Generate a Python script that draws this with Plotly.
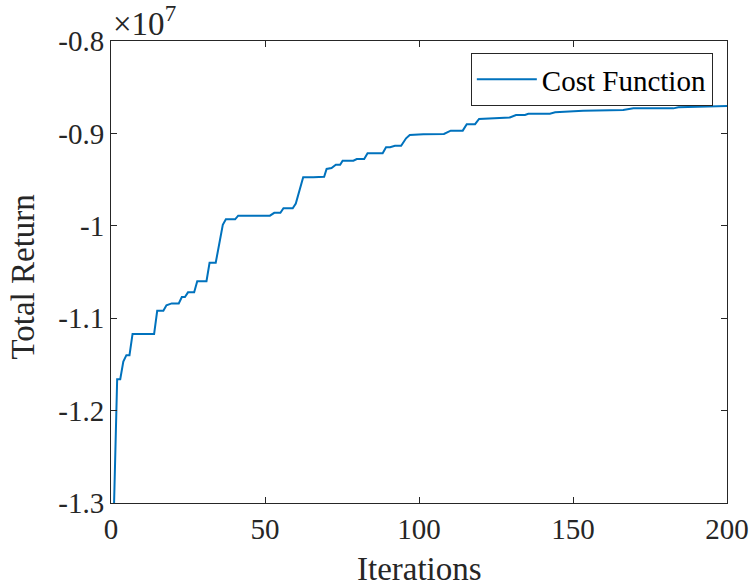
import plotly.graph_objects as go

# Data (values in units of 1e7)
iterations = [1, 2, 3, 4, 5, 6, 7, 14, 15, 17, 18, 19.7, 22, 23, 24, 25, 27, 28, 31, 32, 34,
              35.4, 36.3, 37.3, 40.3, 41.3, 51.6, 53, 55, 56, 59, 60, 61.4, 62.4, 65.7, 69.2,
              70, 71.6, 73, 74.4, 75.2, 78.7, 79.8, 82.2, 83.3, 88.2, 89.3, 90.6, 92.2, 94.2,
              95.8, 97, 101.4, 108.1, 110.3, 114.2, 115.5, 118.2, 119.5, 126.3, 129.5, 131.5,
              134.4, 135.5, 142.5, 144.2, 148, 153.3, 166.3, 169.6, 182.6, 184.2, 200]
cost = [-1.300, -1.166, -1.166, -1.147, -1.140, -1.140, -1.117, -1.117, -1.092, -1.092, -1.086,
        -1.084, -1.084, -1.077, -1.077, -1.072, -1.072, -1.060, -1.060, -1.040, -1.040,
        -1.0135, -0.999, -0.993, -0.993, -0.989, -0.989, -0.986, -0.986, -0.981, -0.981, -0.976,
        -0.958, -0.9475, -0.9475, -0.947, -0.9385, -0.9375, -0.934, -0.934, -0.9295, -0.9295,
        -0.9277, -0.9277, -0.9215, -0.9215, -0.915, -0.915, -0.9133, -0.9133, -0.9053, -0.9017,
        -0.901, -0.9006, -0.897, -0.897, -0.890, -0.890, -0.8844, -0.8837, -0.8827, -0.8801,
        -0.8801, -0.8787, -0.8787, -0.8772, -0.8766, -0.8754, -0.8747, -0.8729, -0.8729,
        -0.8718, -0.8703]

x_ticks = [0, 50, 100, 150, 200]
y_ticks = [-1.3, -1.2, -1.1, -1.0, -0.9, -0.8]
y_ticklabels = ["-1.3", "-1.2", "-1.1", "-1", "-0.9", "-0.8"]

FONT = "Liberation Serif"
AX = "#262626"

fig = go.Figure()
fig.add_trace(go.Scatter(x=iterations, y=cost, mode="lines", name="Cost Function",
                         line=dict(color="#0072BD", width=2)))

axis_common = dict(showline=True, linecolor=AX, linewidth=1, mirror="ticks",
                   ticks="inside", ticklen=6, tickcolor=AX, tickwidth=1,
                   showgrid=False, zeroline=False, automargin=False,
                   tickfont=dict(family=FONT, size=29, color=AX))

fig.update_layout(
    width=751, height=588,
    margin=dict(l=111, r=24, t=41, b=85),
    plot_bgcolor="white", paper_bgcolor="white",
    xaxis=dict(range=[0, 200], tickvals=x_ticks, **axis_common),
    yaxis=dict(range=[-1.3, -0.8], tickvals=y_ticks, ticktext=y_ticklabels, **axis_common),
    legend=dict(x=0.977, y=0.974, xanchor="right", yanchor="top",
                bgcolor="white", bordercolor=AX, borderwidth=1, itemwidth=60,
                font=dict(family=FONT, size=29, color="black")),
    showlegend=True,
)
# axis titles
fig.add_annotation(x=0.5, y=-0.1429, xref="paper", yref="paper", xanchor="center",
                   yanchor="middle", text="Iterations", showarrow=False,
                   font=dict(family=FONT, size=33, color=AX))
fig.add_annotation(x=-0.1429, y=0.49, xref="paper", yref="paper", xanchor="center",
                   yanchor="middle", text="Total Return", textangle=-90, showarrow=False,
                   font=dict(family=FONT, size=33, color=AX))
# exponent label
fig.add_annotation(x=0, y=1, xref="paper", yref="paper", xanchor="left", yanchor="bottom",
                   text="×10<sup>7</sup>", showarrow=False, yshift=-3,
                   font=dict(family=FONT, size=33, color=AX))

fig.write_html("out.html")
